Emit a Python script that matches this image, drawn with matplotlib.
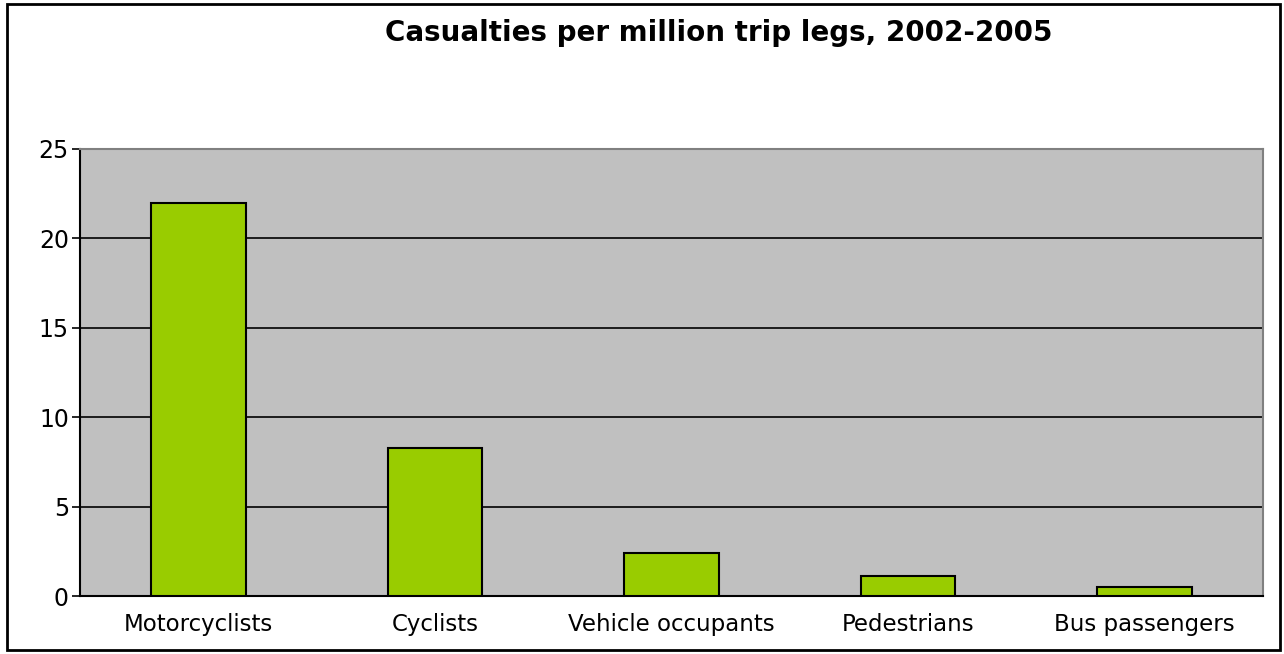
import matplotlib
matplotlib.use("Agg")
import matplotlib.pyplot as plt
from matplotlib.patches import Rectangle

categories = ["Motorcyclists", "Cyclists", "Vehicle occupants", "Pedestrians", "Bus passengers"]
casualties = [22.0, 8.3, 2.4, 1.1, 0.5]
y_ticks = [0, 5, 10, 15, 20, 25]

# reference text looks horizontally stretched, so use a wide face
plt.rcParams["font.family"] = ["DejaVu Sans"]

fig = plt.figure(figsize=(12.84, 6.54), dpi=100)
ax = fig.add_axes([80 / 1284, 1 - 596 / 654, (1263 - 80) / 1284, (596 - 149) / 654])

x = range(len(categories))
ax.set_facecolor("#C0C0C0")
ax.bar(x, casualties, width=0.4, color="#99CC00", edgecolor="black", linewidth=1.5, zorder=3)

ax.set_xlim(-0.5, len(categories) - 0.5)
ax.set_ylim(0, 25)
ax.set_yticks(y_ticks)
ax.set_xticks(list(x))
ax.set_xticklabels(categories, fontsize=16.5)
ax.tick_params(axis="y", labelsize=17, length=6, width=1.2, pad=2)
ax.tick_params(axis="x", length=0, pad=12)
ax.yaxis.grid(True, color="black", linewidth=1.2, zorder=1)
ax.set_axisbelow(True)

for side in ["top", "right"]:
    ax.spines[side].set_color("#808080")
    ax.spines[side].set_linewidth(1.5)
for side in ["left", "bottom"]:
    ax.spines[side].set_color("black")
    ax.spines[side].set_linewidth(1.5)

fig.text(719 / 1284, 1 - 41 / 654, "Casualties per million trip legs, 2002-2005",
         ha="center", va="baseline", fontsize=20, fontweight="bold")

fig.patches.append(Rectangle((7 / 1284, 4 / 654), 1273 / 1284, 646 / 654,
                             transform=fig.transFigure, fill=False,
                             edgecolor="black", linewidth=2))

fig.savefig("out.png", dpi=100)
